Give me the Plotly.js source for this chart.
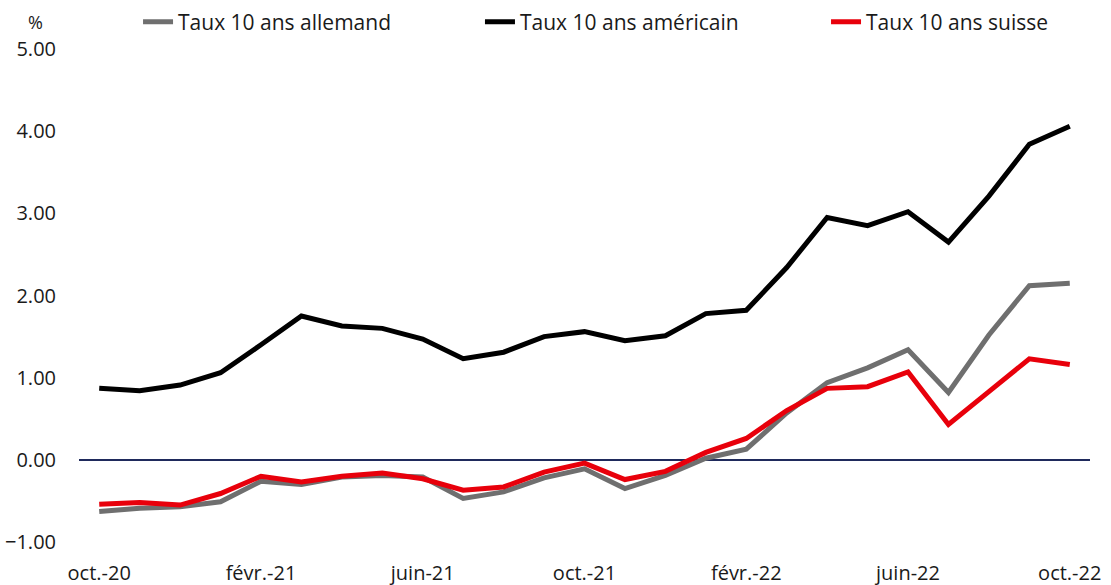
<!DOCTYPE html>
<html>
<head>
<meta charset="utf-8">
<script src="https://cdn.plot.ly/plotly-3.0.1.min.js"></script>
<style>html,body{margin:0;padding:0;background:#fff;}#chart{width:1111px;height:585px;}</style>
</head>
<body>
<div id="chart"></div>
<script>
const months = ["oct.-20","nov.-20","déc.-20","janv.-21","févr.-21","mars-21","avr.-21","mai-21","juin-21","juil.-21","août-21","sept.-21","oct.-21","nov.-21","déc.-21","janv.-22","févr.-22","mars-22","avr.-22","mai-22","juin-22","juil.-22","août-22","sept.-22","oct.-22"];
const tickLabels = ["oct.-20","févr.-21","juin-21","oct.-21","févr.-22","juin-22","oct.-22"];
const yTicks = [-1, 0, 1, 2, 3, 4, 5];
const seriesNames = ["Taux 10 ans allemand","Taux 10 ans américain","Taux 10 ans suisse"];
const tauxAllemand = [-0.63,-0.59,-0.57,-0.51,-0.26,-0.30,-0.21,-0.19,-0.21,-0.47,-0.39,-0.22,-0.11,-0.35,-0.19,0.02,0.13,0.57,0.94,1.12,1.34,0.82,1.52,2.12,2.15];
const tauxAmericain = [0.87,0.84,0.91,1.06,1.40,1.75,1.63,1.60,1.47,1.23,1.31,1.50,1.56,1.45,1.51,1.78,1.82,2.34,2.95,2.85,3.02,2.65,3.21,3.84,4.06];
const tauxSuisse = [-0.54,-0.52,-0.55,-0.41,-0.20,-0.27,-0.20,-0.16,-0.23,-0.37,-0.33,-0.15,-0.04,-0.24,-0.14,0.09,0.26,0.60,0.87,0.89,1.07,0.43,0.83,1.23,1.16];

const FONT = "Open Sans, Noto Sans, sans-serif";
const TXT = "#1a1a1a";
const colors = ["#6f6f6f", "#000000", "#e8000b"];
const values = [tauxAllemand, tauxAmericain, tauxSuisse];
const legendIds = ["legend", "legend2", "legend3"];
const legendX = [0.0584, 0.3966, 0.7389];

const traces = values.map((v, i) => ({
  type: "scatter",
  mode: "lines",
  x: months,
  y: v,
  name: seriesNames[i],
  legend: legendIds[i],
  line: {color: colors[i], width: 5, shape: "linear"},
  hoverinfo: "x+y+name"
}));

const layout = {
  width: 1111,
  height: 585,
  margin: {l: 79, r: 21, t: 49, b: 43, autoexpand: false},
  paper_bgcolor: "#ffffff",
  plot_bgcolor: "#ffffff",
  font: {family: FONT, size: 20, color: TXT},
  showlegend: true,
  xaxis: {
    type: "category",
    categoryorder: "array",
    categoryarray: months,
    range: [-0.5, months.length - 0.5],
    tickmode: "array",
    tickvals: tickLabels,
    ticktext: tickLabels,
    showgrid: false,
    zeroline: false,
    showline: false,
    ticks: "",
    ticklabelstandoff: 17,
    tickfont: {family: FONT, size: 20, color: TXT},
    fixedrange: true
  },
  yaxis: {
    range: [-1, 5],
    tickmode: "array",
    tickvals: yTicks,
    tickformat: ".2f",
    showgrid: false,
    zeroline: true,
    zerolinecolor: "#1f2a5c",
    zerolinewidth: 1.5,
    showline: false,
    ticks: "",
    ticklabelstandoff: 22,
    tickfont: {family: FONT, size: 20, color: TXT},
    fixedrange: true
  },
  annotations: [{
    text: "%",
    xref: "paper", yref: "paper",
    x: (35 - 79) / 1011, y: 1 + (49 - 22) / 493,
    xanchor: "center", yanchor: "middle",
    showarrow: false,
    font: {family: FONT, size: 18, color: TXT}
  }]
};

legendIds.forEach((id, i) => {
  layout[id] = {
    orientation: "h",
    x: legendX[i], xanchor: "left",
    y: 1 + (49 - 22) / 493, yanchor: "middle",
    font: {family: FONT, size: 21, color: TXT},
    bgcolor: "rgba(0,0,0,0)",
    itemwidth: 30
  };
});

Plotly.newPlot("chart", traces, layout, {displayModeBar: false});
</script>
</body>
</html>
